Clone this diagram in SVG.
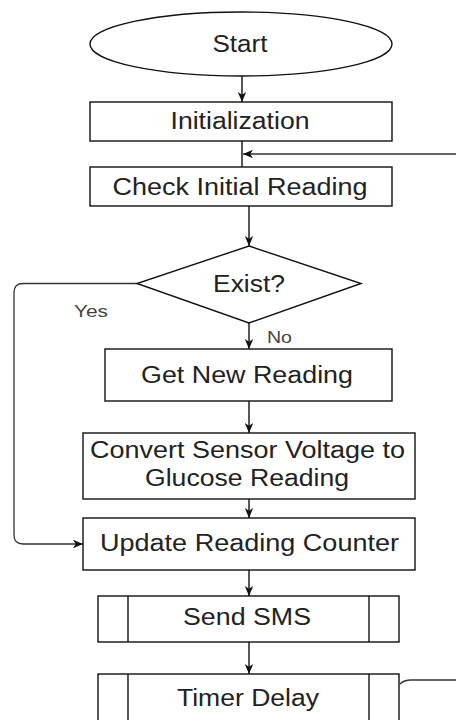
<svg xmlns="http://www.w3.org/2000/svg" width="456" height="720" viewBox="0 0 456 720">
<defs>
<style>
.box{fill:#fff;stroke:#111;stroke-width:1.4}
.t{font-family:"Liberation Sans",Arial,sans-serif;font-size:23px;fill:#222;text-anchor:middle}
.lbl{font-family:"Liberation Sans",Arial,sans-serif;font-size:17px;fill:#444;text-anchor:middle}
.c{fill:none;stroke:#111;stroke-width:1.4}
.cg{fill:none;stroke:#333;stroke-width:1.3}
</style>
<marker id="ah" viewBox="0 0 10 10" refX="10" refY="5" markerWidth="10" markerHeight="10" markerUnits="userSpaceOnUse" orient="auto">
<path d="M0,0.8 L10,5 L0,9.2 L2.8,5 Z" fill="#111"/>
</marker>
</defs>
<rect width="456" height="720" fill="#fff"/>
<g id="connectors">
<line class="c" x1="242" y1="76" x2="242" y2="102" marker-end="url(#ah)"/>
<line class="c" x1="242" y1="141" x2="242" y2="167"/>
<line class="cg" x1="456" y1="154" x2="243" y2="154" marker-end="url(#ah)"/>
<line class="c" x1="249" y1="206" x2="249" y2="246" marker-end="url(#ah)"/>
<path class="cg" d="M137,283.5 H23 Q14,283.5 14,292.5 V535 Q14,544 23,544 H83" marker-end="url(#ah)"/>
<line class="c" x1="249" y1="323" x2="249" y2="349" marker-end="url(#ah)"/>
<line class="c" x1="249" y1="401" x2="249" y2="433" marker-end="url(#ah)"/>
<line class="c" x1="249" y1="499" x2="249" y2="518" marker-end="url(#ah)"/>
<line class="c" x1="249" y1="570" x2="249" y2="596" marker-end="url(#ah)"/>
<line class="c" x1="249" y1="642" x2="249" y2="674" marker-end="url(#ah)"/>
<path class="cg" d="M400,684 Q404,680 411,680 H456"/>
<text class="lbl" x="91" y="317" textLength="34" lengthAdjust="spacingAndGlyphs">Yes</text>
<text class="lbl" x="279.5" y="343" textLength="25" lengthAdjust="spacingAndGlyphs">No</text>
</g>
<g id="start">
<ellipse class="box" cx="241" cy="44" rx="151" ry="32"/>
<text class="t" x="240" y="52" textLength="55" lengthAdjust="spacingAndGlyphs">Start</text>
</g>
<g id="initialization">
<rect class="box" x="90" y="102" width="302" height="39"/>
<text class="t" x="240" y="129" textLength="139" lengthAdjust="spacingAndGlyphs">Initialization</text>
</g>
<g id="check">
<rect class="box" x="90" y="167" width="302" height="39"/>
<text class="t" x="240" y="195" textLength="255" lengthAdjust="spacingAndGlyphs">Check Initial Reading</text>
</g>
<g id="exist">
<polygon class="box" points="249,246 361,283.5 249,323 137,283.5"/>
<text class="t" x="249" y="292" textLength="72" lengthAdjust="spacingAndGlyphs">Exist?</text>
</g>
<g id="getnew">
<rect class="box" x="105" y="349" width="287" height="52"/>
<text class="t" x="247" y="383" textLength="212" lengthAdjust="spacingAndGlyphs">Get New Reading</text>
</g>
<g id="convert">
<rect class="box" x="83" y="433" width="332" height="66"/>
<text class="t" x="247.5" y="458" textLength="315" lengthAdjust="spacingAndGlyphs">Convert Sensor Voltage to</text>
<text class="t" x="247" y="486" textLength="204" lengthAdjust="spacingAndGlyphs">Glucose Reading</text>
</g>
<g id="update">
<rect class="box" x="83" y="518" width="332" height="52"/>
<text class="t" x="249.5" y="551" textLength="299" lengthAdjust="spacingAndGlyphs">Update Reading Counter</text>
</g>
<g id="sendsms">
<rect class="box" x="98" y="596" width="301" height="46"/>
<line class="box" x1="128" y1="596" x2="128" y2="642"/>
<line class="box" x1="369" y1="596" x2="369" y2="642"/>
<text class="t" x="247" y="625" textLength="128" lengthAdjust="spacingAndGlyphs">Send SMS</text>
</g>
<g id="timerdelay">
<rect class="box" x="98" y="674" width="301" height="60"/>
<line class="box" x1="128" y1="674" x2="128" y2="734"/>
<line class="box" x1="369" y1="674" x2="369" y2="734"/>
<text class="t" x="248" y="706" textLength="142" lengthAdjust="spacingAndGlyphs">Timer Delay</text>
</g>
</svg>
